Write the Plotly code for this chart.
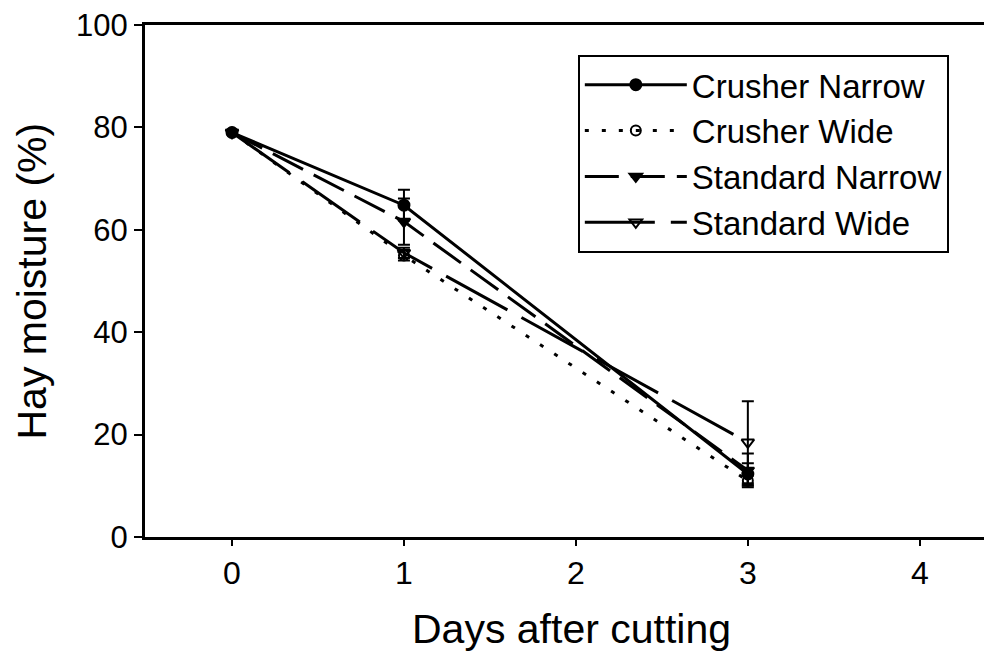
import plotly.graph_objects as go

days = [0, 1, 3]
crusher_narrow = [79, 64.8, 12.3]
crusher_narrow_err = [0, 3.0, 2.1]
crusher_wide = [79, 55.0, 11.0]
crusher_wide_err = [0, 1.0, 1.0]
standard_narrow = [79, 61.6, 13.0]
standard_narrow_err = [0, 4.5, 3.3]
standard_wide = [79, 55.5, 18.5]
standard_wide_err = [0, 1.0, 8.0]

x_ticks = [0, 1, 2, 3, 4]
y_ticks = [0, 20, 40, 60, 80, 100]

FONT = "Liberation Sans, Arial, sans-serif"

series = [
    ("Crusher Narrow", crusher_narrow, crusher_narrow_err, "solid", "circle", 11),
    ("Crusher Wide", crusher_wide, crusher_wide_err, "4px,13px", "circle-open", 10),
    ("Standard Narrow", standard_narrow, standard_narrow_err, "34px,12px", "triangle-down", 11),
    ("Standard Wide", standard_wide, standard_wide_err, "70px,16px", "triangle-down-open", 11),
]

fig = go.Figure()
for name, vals, err, dash, sym, size in series:
    fig.add_trace(go.Scatter(
        x=days, y=vals, name=name, mode="lines+markers",
        line=dict(color="black", width=3, dash=dash),
        marker=dict(symbol=sym, size=size, color="black",
                    line=dict(color="black", width=2)),
        error_y=dict(type="data", array=err, visible=True,
                     color="black", thickness=2, width=6),
    ))

fig.update_layout(
    width=984, height=647,
    margin=dict(l=137, r=0, t=14, b=118),
    paper_bgcolor="white", plot_bgcolor="white",
    font=dict(family=FONT, color="black", size=32),
    showlegend=True,
    legend=dict(
        x=0.511, y=0.942, xanchor="left", yanchor="top",
        bordercolor="black", borderwidth=2, bgcolor="white",
        font=dict(family=FONT, size=33, color="black"),
        itemwidth=102, tracegroupgap=0,
    ),
    xaxis=dict(
        range=[-0.506, 4.42], tickvals=x_ticks, ticktext=[str(v) for v in x_ticks],
        showline=True, linecolor="black", linewidth=3, mirror=True,
        ticks="outside", ticklen=6, tickwidth=2, tickcolor="black",
        showgrid=False, zeroline=False, ticklabeloverflow="allow",
        tickfont=dict(family=FONT, size=32, color="black"),
    ),
    yaxis=dict(
        range=[0, 100], tickvals=y_ticks, ticktext=[str(v) for v in y_ticks],
        showline=True, linecolor="black", linewidth=3, mirror=False,
        ticks="outside", ticklen=8, tickwidth=2, tickcolor="black",
        showgrid=False, zeroline=False, ticklabeloverflow="allow",
        tickfont=dict(family=FONT, size=31, color="black"),
    ),
    annotations=[
        dict(text="Days after cutting", xref="paper", yref="paper",
             x=0.504, y=-0.18, xanchor="center", yanchor="middle",
             showarrow=False, font=dict(family=FONT, size=41, color="black")),
        dict(text="Hay moisture (%)", xref="paper", yref="paper",
             x=-0.134, y=0.5, xanchor="center", yanchor="middle", textangle=-90,
             showarrow=False, font=dict(family=FONT, size=41, color="black")),
    ],
)

fig.write_html("out.html")
